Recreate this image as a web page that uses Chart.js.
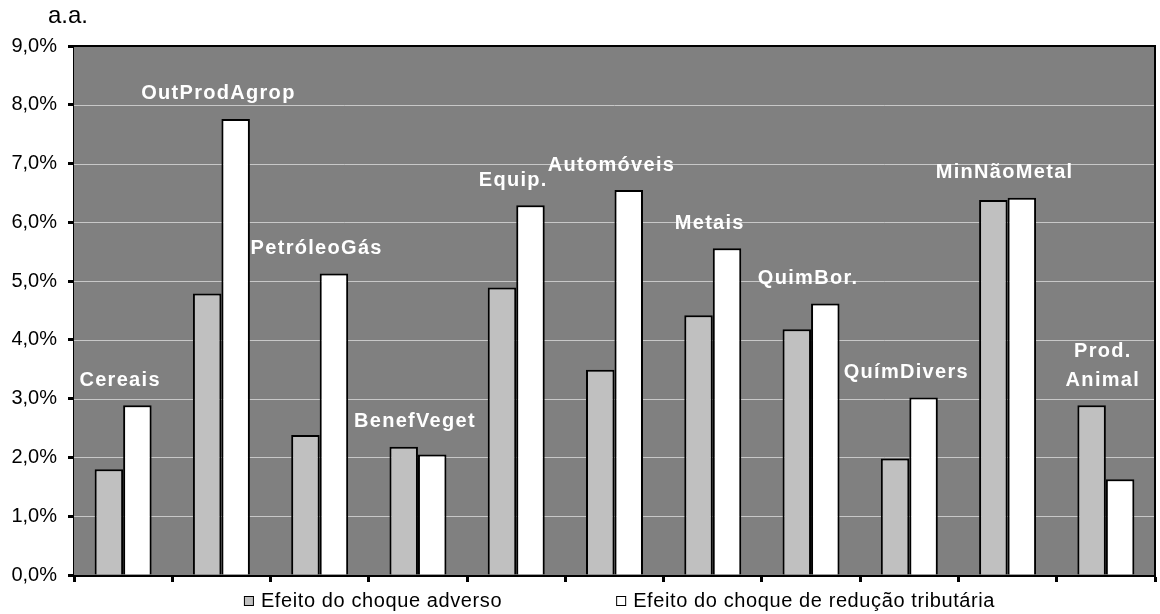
<!DOCTYPE html>
<html>
<head>
<meta charset="utf-8">
<script src="https://cdn.jsdelivr.net/npm/chart.js@4/dist/chart.umd.min.js"></script>
<style>
  html, body { margin: 0; padding: 0; background: #fff; }
  #wrap { width: 1160px; height: 614px; position: relative; }
</style>
</head>
<body>
<div id="wrap"><canvas id="chart"></canvas></div>
<script>
'use strict';

// Categories (sectors)
const categories = [
  'Cereais', 'OutProdAgrop', 'PetróleoGás', 'BenefVeget', 'Equip.',
  'Automóveis', 'Metais', 'QuimBor.', 'QuímDivers', 'MinNãoMetal', ['Prod.', 'Animal'],
];

// Series values (% a.a.)
const adverseShock = [1.80, 4.79, 2.38, 2.18, 4.89, 3.49, 4.42, 4.18, 1.98, 6.38, 2.89];
const taxCutShock = [2.89, 7.76, 5.13, 2.05, 6.29, 6.55, 5.56, 4.62, 3.02, 6.42, 1.63];

const seriesLabels = ['Efeito do choque adverso', 'Efeito do choque de redução tributária'];
const yTicks = [0, 1, 2, 3, 4, 5, 6, 7, 8, 9];

const FONT = '"Liberation Sans", Arial, sans-serif';

const formatPct = (v) => `${v.toFixed(1).replace('.', ',')}%`;

/**
 * Gray plot background, frame, unit text, in-plot category labels and legend
 */
const decorPlugin = {
  id: 'decor',
  beforeDatasetsDraw(chart) {
    const { ctx, chartArea: a } = chart;
    ctx.save();
    ctx.fillStyle = '#808080';
    ctx.fillRect(a.left, a.top, a.right - a.left, a.bottom - a.top);
    // gridlines on top of the fill
    const y = chart.scales.y;
    ctx.strokeStyle = '#c8c8c8';
    ctx.lineWidth = 1;
    yTicks.forEach((t) => {
      if (t === 0 || t === 9) return;
      const py = Math.round(y.getPixelForValue(t)) + 0.5;
      ctx.beginPath();
      ctx.moveTo(a.left, py);
      ctx.lineTo(a.right, py);
      ctx.stroke();
    });
    ctx.restore();
  },
  afterDraw(chart) {
    const { ctx, chartArea: a } = chart;
    const x = chart.scales.x;
    const y = chart.scales.y;
    ctx.save();

    // top and right frame
    ctx.strokeStyle = '#000';
    ctx.lineWidth = 2;
    ctx.beginPath();
    ctx.moveTo(a.left, a.top);
    ctx.lineTo(a.right, a.top);
    ctx.lineTo(a.right, a.bottom);
    ctx.stroke();

    // unit
    ctx.fillStyle = '#000';
    ctx.font = `24px ${FONT}`;
    ctx.textAlign = 'left';
    ctx.textBaseline = 'alphabetic';
    ctx.fillText('a.a.', 48, 23);

    // category labels above each group
    ctx.fillStyle = '#fff';
    ctx.font = `bold 20px ${FONT}`;
    ctx.letterSpacing = '1.3px';
    ctx.textAlign = 'center';
    ctx.textBaseline = 'middle';
    categories.forEach((cat, i) => {
      const top = Math.max(adverseShock[i], taxCutShock[i]);
      const lines = Array.isArray(cat) ? cat : [cat];
      const cx = x.getPixelForValue(i) - 3;
      let cy = y.getPixelForValue(top) - 25;
      for (let k = lines.length - 1; k >= 0; k--) {
        ctx.fillText(lines[k], cx, cy);
        cy -= 29;
      }
    });

    // legend
    const colors = chart.data.datasets.map((d) => d.backgroundColor);
    ctx.font = `20px ${FONT}`;
    ctx.letterSpacing = '0.6px';
    ctx.textAlign = 'left';
    const box = 10;
    const boxGap = 7;
    const itemGap = 114;
    const widths = seriesLabels.map((t) => ctx.measureText(t).width);
    const total = widths.reduce((s, w) => s + box + boxGap + w, 0) + itemGap;
    let lx = (a.left + a.right) / 2 - total / 2 + 5;
    const ly = 601;
    seriesLabels.forEach((t, i) => {
      ctx.fillStyle = colors[i];
      ctx.fillRect(lx, ly - box / 2, box, box);
      ctx.strokeStyle = '#000';
      ctx.lineWidth = 1;
      ctx.strokeRect(lx + 0.5, ly - box / 2 + 0.5, box - 1, box - 1);
      ctx.fillStyle = '#000';
      ctx.fillText(t, lx + box + boxGap, ly);
      lx += box + boxGap + widths[i] + itemGap;
    });
    ctx.restore();
  },
};

new Chart(document.getElementById('chart'), {
  type: 'bar',
  data: {
    labels: categories,
    datasets: [
      {
        label: seriesLabels[0],
        data: adverseShock,
        backgroundColor: '#c0c0c0',
        borderColor: '#000',
        borderWidth: 2,
        categoryPercentage: 0.58,
        barPercentage: 1.0,
      },
      {
        label: seriesLabels[1],
        data: taxCutShock,
        backgroundColor: '#ffffff',
        borderColor: '#000',
        borderWidth: 2,
        categoryPercentage: 0.58,
        barPercentage: 1.0,
      },
    ],
  },
  options: {
    responsive: true,
    maintainAspectRatio: false,
    animation: false,
    layout: { padding: { top: 46, right: 5, left: 0, bottom: 0 } },
    plugins: {
      legend: { display: false },
      tooltip: { enabled: false },
    },
    scales: {
      x: {
        offset: true,
        grid: {
          offset: true,
          drawOnChartArea: false,
          drawTicks: true,
          tickLength: 7,
          tickColor: '#000',
          tickWidth: 3,
        },
        border: { color: '#000', width: 3 },
        ticks: { callback: () => '', font: { size: 1 } },
        afterFit: (scale) => { scale.height = 39; },
      },
      y: {
        min: 0,
        max: 9,
        ticks: {
          stepSize: 1,
          color: '#000',
          padding: 11,
          font: { family: FONT, size: 20 },
          callback: (v) => formatPct(v),
        },
        grid: {
          color: 'rgba(0,0,0,0)',
          tickColor: '#000',
          tickWidth: 3,
          tickLength: 6,
        },
        border: { color: '#000', width: 3 },
        afterFit: (scale) => { scale.width = 74; },
      },
    },
  },
  plugins: [decorPlugin],
});
</script>
</body>
</html>
